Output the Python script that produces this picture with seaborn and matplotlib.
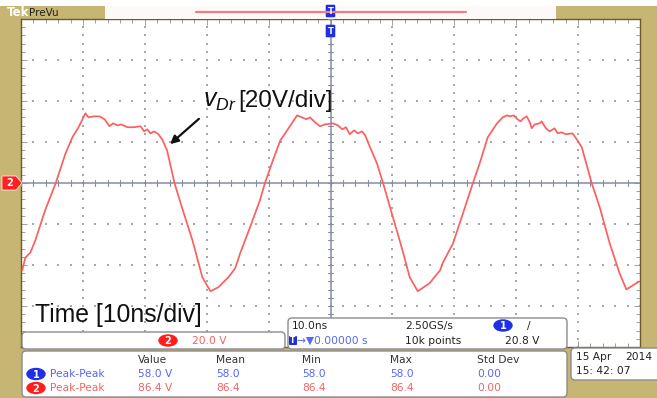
import numpy as np
import pandas as pd
import matplotlib
matplotlib.use("Agg")
import matplotlib.pyplot as plt
import seaborn as sns
from matplotlib.patches import FancyBboxPatch, Rectangle, Polygon, Ellipse

time_ns = [-49.8, -49.3, -48.5, -47.7, -46.1, -44.4, -42.8, -41.7, -40.7, -39.6,
           -39.1, -38.3, -37.3, -36.5, -35.7, -35.1, -34.4, -33.8, -32.8, -31.7,
           -30.7, -30.1, -29.6, -29.1, -28.5, -27.8, -27.2, -26.4,
           -25.2, -24.0, -22.3, -20.7, -19.4, -18.1, -16.5, -15.4, -14.6, -13.0,
           -11.4, -10.6, -9.3, -8.1, -7.0,
           -5.4, -4.6, -3.9, -3.3, -2.5, -1.7, -0.9, 0.4, 1.2, 1.9,
           2.5, 3.1, 3.8, 4.4, 5.1, 5.6, 6.4,
           7.5, 8.5, 9.9, 11.5, 12.8, 14.1, 16.0,
           17.7, 18.1, 19.8, 21.4, 23.0, 24.1, 25.4, 26.9,
           27.8, 28.5, 29.0, 29.6, 30.2, 30.7, 31.2, 31.7, 32.2, 32.5,
           33.0, 33.8, 34.1, 34.8, 35.4, 36.2, 36.7, 37.3, 38.0, 39.1,
           39.9, 40.6, 42.2,
           43.5, 45.1, 46.7, 47.8, 49.4, 49.9]
volts = [-42.6, -36.4, -34.0, -28.1, -13.3, -0.1, 14.5, 22.3, 27.2, 34.0,
         32.0, 32.5, 32.5, 31.1, 27.7, 29.1, 28.1, 28.6, 27.2, 27.2,
         27.7, 25.2, 26.2, 24.2, 25.2, 23.8, 21.3, 15.9,
         -0.1, -11.9, -28.0, -46.0, -52.8, -50.8, -46.0, -41.6, -34.3, -21.6,
         -8.4, -0.1, 11.1, 20.8, 25.7,
         33.0, 32.0, 31.1, 32.0, 29.6, 27.7, 28.6, 29.1, 28.1, 26.2,
         27.2, 23.8, 25.7, 24.2, 25.2, 23.3, 17.4,
         9.6, -0.1, -14.8, -31.4, -46.0, -52.8, -48.9,
         -42.6, -39.2, -29.4, -14.8, -0.1, 9.6, 22.3, 29.1,
         32.0, 33.0, 32.5, 33.0, 31.1, 30.1, 31.6, 32.5, 29.6, 26.7,
         28.6, 29.1, 30.1, 26.7, 25.2, 26.7, 24.2, 24.7, 23.8, 24.2,
         20.8, 17.4, -0.1,
         -11.9, -29.4, -44.0, -51.9, -48.9, -48.0]

meas_cols = ["Value", "Mean", "Min", "Max", "Std Dev"]
ch1_vals = ["58.0 V", "58.0", "58.0", "58.0", "0.00"]
ch2_vals = ["86.4 V", "86.4", "86.4", "86.4", "0.00"]

W, H = 657, 398
GOLD = "#C6B573"
TRACE = "#FF5E5E"
BLUE = "#1E2FE6"
BLUE_TXT = "#5566F2"
RED_TXT = "#F06464"
GRID = "#A9A9A9"
AXC = "#868CA0"

sns.set_style("white")
plt.rcParams["font.family"] = ["DejaVu Sans"]
plt.rcParams["mathtext.fontset"] = "custom"
plt.rcParams["mathtext.it"] = "Liberation Sans:italic"
plt.rcParams["mathtext.rm"] = "Liberation Sans"

fig = plt.figure(figsize=(W / 100, H / 100), dpi=100)
fig.patch.set_facecolor(GOLD)

# main graticule axes
ax = fig.add_axes([21 / W, 1 - 347 / H, 619 / W, 328 / H])
ax.set_facecolor("white")
df = pd.DataFrame({"t": time_ns, "v": volts})
sns.lineplot(data=df, x="t", y="v", ax=ax, color=TRACE, lw=1.25, estimator=None, zorder=4)
ax.set_xlim(-50, 50)
ax.set_ylim(-80, 80)
ax.set_xlabel("")
ax.set_ylabel("")

# dotted grid
gx = np.arange(-40, 41, 10)
gy = np.arange(-60, 61, 20)
mx = np.arange(-50, 50.1, 2)
my = np.arange(-80, 80.1, 4)
for x in gx:
    if x != 0:
        ax.scatter(np.full_like(my, x, dtype=float), my, s=1.3, marker="s", color=GRID, lw=0, zorder=2)
for y in gy:
    if y != 0:
        ax.scatter(mx, np.full_like(mx, y, dtype=float), s=1.3, marker="s", color=GRID, lw=0, zorder=2)
# centre cross with minor ticks
ax.axhline(0, color=AXC, lw=1.1, zorder=3)
ax.axvline(0, color=AXC, lw=1.1, zorder=3)
for x in mx:
    ax.plot([x, x], [-1.5, 1.5], color=AXC, lw=0.8, zorder=3)
for y in my:
    ax.plot([-0.45, 0.45], [y, y], color=AXC, lw=0.8, zorder=3)

ax.set_xticks(np.arange(-50, 51, 10))
ax.set_yticks(np.arange(-80, 81, 20))
ax.set_xticks(mx, minor=True)
ax.set_yticks(my, minor=True)
ax.tick_params(which="both", direction="in", top=True, right=True, bottom=True, left=True,
               labelbottom=False, labelleft=False, color="#A0A0A0", length=3, width=0.7)
ax.tick_params(which="major", length=4)
for s in ax.spines.values():
    s.set_color("#6B5A2A")
    s.set_linewidth(1.0)

# overlay in pixel coordinates
ov = fig.add_axes([0, 0, 1, 1])
ov.set_xlim(0, W)
ov.set_ylim(H, 0)
ov.axis("off")
ov.patch.set_alpha(0)
ov.set_zorder(10)

# top strip
ov.add_patch(Rectangle((0, 0), W, 6, color="white", lw=0))
ov.add_patch(Rectangle((105, 6), 451, 13, color="#FFF8F8", lw=0))
ov.plot([196, 466], [11.5, 11.5], color="#F08080", lw=1.6)
ov.text(7, 13, "Tek", color="white", fontsize=8.5, fontweight="bold", va="center")
ov.text(29, 12.5, "PreVu", color="#222222", fontsize=7.5, va="center")
for yc in (11, 31):
    ov.add_patch(FancyBboxPatch((327, yc - 5), 7, 10, boxstyle="round,pad=0.6", fc=BLUE, ec=BLUE))
    ov.text(330.5, yc, "T", color="white", fontsize=6, ha="center", va="center", fontweight="bold")

# channel 2 ground marker
ov.add_patch(Polygon([[2, 176], [16, 176], [22, 183], [16, 190], [2, 190]], closed=True, fc="#FF2020", ec="white", lw=0.5))
ov.text(10, 183.5, "2", color="white", fontsize=7, ha="center", va="center", fontweight="bold")

# annotations
ov.text(203, 107, r"$v_{Dr}$", fontsize=18, color="#111111", va="baseline")
ov.text(238, 107, "[20V/div]", fontsize=17.5, color="#111111", va="baseline", family="Liberation Sans")
ov.annotate("", xy=(168, 146), xytext=(201, 117),
            arrowprops=dict(arrowstyle="-|>", color="#111111", lw=1.6, mutation_scale=12))
ov.text(35, 322, "Time [10ns/div]", fontsize=17.8, color="#111111", va="baseline", family="Liberation Sans")

def box(x0, y0, x1, y1):
    ov.add_patch(FancyBboxPatch((x0, y0), x1 - x0, y1 - y0, boxstyle="round,pad=0,rounding_size=4",
                                fc="white", ec="#8C8C8C", lw=1.0))

def badge(xc, yc, label, col):
    ov.add_patch(Ellipse((xc, yc), 18, 11, fc=col, ec=col))
    ov.text(xc, yc + 0.5, label, color="white", fontsize=7, ha="center", va="center", fontweight="bold")

FS = 7.7
# channel scale box
box(22, 332, 285, 349)
badge(168, 340.5, "2", "#FF1E1E")
ov.text(192, 340.5, "20.0 V", color=RED_TXT, fontsize=FS, va="center")

# timebase box
box(288, 318, 567, 349)
ov.text(292, 326, "10.0ns", color="#222222", fontsize=FS, va="center")
ov.add_patch(FancyBboxPatch((290, 337), 6, 7, boxstyle="round,pad=0.3", fc=BLUE, ec=BLUE))
ov.text(293, 340.5, "T", color="white", fontsize=5.5, ha="center", va="center", fontweight="bold")
ov.text(297, 340.5, "\u2192\u25bc0.00000 s", color=BLUE_TXT, fontsize=FS, va="center")
ov.text(405, 326, "2.50GS/s", color="#222222", fontsize=FS, va="center")
ov.text(405, 341, "10k points", color="#222222", fontsize=FS, va="center")
badge(503, 325.5, "1", BLUE)
ov.text(527, 325.5, "/", color="#222222", fontsize=FS, va="center")
ov.text(505, 341, "20.8 V", color="#222222", fontsize=FS, va="center")

# measurement box
box(22, 351, 567, 397)
col_x = [138, 216, 302, 390, 477]
for cx, name in zip(col_x, meas_cols):
    ov.text(cx, 360, name, color="#333333", fontsize=FS, va="center")
badge(36, 374, "1", BLUE)
badge(36, 388, "2", "#FF1E1E")
ov.text(50, 374, "Peak-Peak", color=BLUE_TXT, fontsize=FS, va="center")
ov.text(50, 388, "Peak-Peak", color=RED_TXT, fontsize=FS, va="center")
for cx, v1, v2 in zip(col_x, ch1_vals, ch2_vals):
    ov.text(cx, 374, v1, color=BLUE_TXT, fontsize=FS, va="center")
    ov.text(cx, 388, v2, color=RED_TXT, fontsize=FS, va="center")

# date box
box(571, 348, 662, 380)
ov.text(576, 357.5, "15 Apr", color="#222222", fontsize=FS, va="center")
ov.text(625, 357.5, "2014", color="#222222", fontsize=FS, va="center")
ov.text(576, 371.5, "15: 42: 07", color="#222222", fontsize=FS, va="center")

fig.savefig("out.png", dpi=100, facecolor=fig.get_facecolor())
